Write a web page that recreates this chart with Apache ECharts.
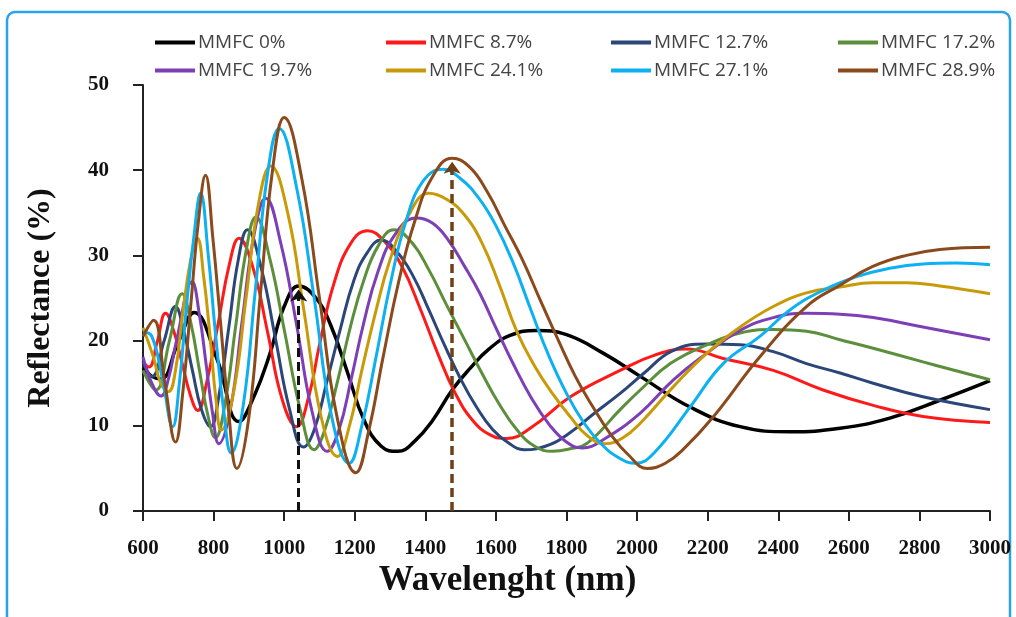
<!DOCTYPE html>
<html>
<head>
<meta charset="utf-8">
<script src="https://cdn.jsdelivr.net/npm/echarts@6/dist/echarts.min.js"></script>
<style>html,body{margin:0;padding:0;background:#fff}#c{width:1016px;height:617px}</style>
</head>
<body>
<div id="c"></div>
<script>
// ---- data (wavelength nm, reflectance %) ----
const names = ['MMFC 0%','MMFC 8.7%','MMFC 12.7%','MMFC 17.2%','MMFC 19.7%','MMFC 24.1%','MMFC 27.1%','MMFC 28.9%'];
const xTicks = [600,800,1000,1200,1400,1600,1800,2000,2200,2400,2600,2800,3000];
const yTicks = [0,10,20,30,40,50];

const mmfc0 = [[600,16.8],[625,15.8],[650,15.5],[700,19.8],[745,23.3],[810,17.8],[872,10.5],[915,13.5],[960,18.5],[1000,24.0],[1042,26.4],[1090,25.0],[1132,21.8],[1180,16.2],[1226,10.7],[1275,7.6],[1322,7.0],[1370,8.2],[1420,10.6],[1476,14.2],[1528,16.8],[1580,19.0],[1640,20.6],[1716,21.2],[1800,20.7],[1905,18.5],[2009,15.8],[2150,12.2],[2292,9.9],[2433,9.3],[2575,9.7],[2716,10.9],[2858,13.0],[3000,15.3]];
const mmfc87 = [[600,17.5],[617,16.9],[640,19.8],[664,23.2],[688,21],[710,17.5],[735,13.5],[755,11.8],[780,15],[813,22],[845,29],[872,32.0],[912,28.5],[953,21],[995,13],[1035,9.9],[1070,13.5],[1100,19.5],[1141,26.7],[1190,31.5],[1236,32.9],[1285,31.6],[1335,28.6],[1385,23.8],[1435,18.5],[1485,13.8],[1535,10.6],[1585,8.9],[1630,8.5],[1700,9.8],[1811,13.4],[1952,16.5],[2050,18.3],[2140,19.0],[2244,17.9],[2386,16.5],[2527,14.2],[2669,12.4],[2810,11.1],[3000,10.4]];
const mmfc127 = [[600,17.5],[626,15.8],[660,20],[692,24.0],[716,21],[740,16.5],[765,12],[791,9.9],[815,13.5],[843,21.5],[870,29.5],[896,33.0],[935,28.5],[975,20.3],[1015,12],[1055,7.5],[1085,9.5],[1120,15],[1160,21.5],[1197,27],[1235,30.3],[1275,31.8],[1320,30.4],[1365,27.6],[1410,23.6],[1455,19.4],[1500,15.5],[1545,12.2],[1590,9.6],[1635,8.0],[1680,7.2],[1740,7.6],[1800,8.9],[1880,11.5],[1952,13.8],[2020,16.2],[2100,18.8],[2197,19.6],[2292,19.5],[2386,18.7],[2480,17.3],[2575,16.2],[2669,15.0],[2810,13.4],[3000,11.9]];
const mmfc172 = [[600,16.5],[636,14.2],[675,20],[711,25.5],[736,22],[760,16.5],[785,11],[805,8.6],[832,12.5],[862,21.5],[892,30.5],[920,34.5],[960,29.5],[1002,20.9],[1045,12],[1085,7.2],[1115,9.5],[1150,15],[1190,22],[1225,27],[1265,31],[1311,33.0],[1360,31.6],[1410,28.3],[1460,24.2],[1510,20.2],[1560,16.2],[1610,12.5],[1660,9.5],[1710,7.6],[1760,7.0],[1810,7.3],[1860,8.0],[1952,11.9],[2009,14.2],[2094,17.3],[2197,19.5],[2292,20.9],[2386,21.3],[2480,21.1],[2575,20.1],[2669,19.1],[2810,17.5],[3000,15.4]];
const mmfc197 = [[600,18.1],[625,15],[651,13.5],[672,15.5],[695,20],[739,26.9],[760,23],[778,17.5],[797,11.5],[815,7.9],[848,12],[881,22.3],[915,32.5],[948,36.7],[990,31.5],[1035,21.9],[1080,11.5],[1122,7.0],[1155,9.5],[1190,15.5],[1225,22],[1265,28],[1315,32.5],[1375,34.4],[1420,33.8],[1465,31.8],[1510,28.8],[1555,25.5],[1600,21.5],[1650,17.2],[1700,13.3],[1750,10.2],[1800,8.1],[1845,7.4],[1905,8.4],[2009,11.5],[2103,15.4],[2197,18.5],[2292,21.2],[2386,22.7],[2480,23.2],[2575,23.1],[2669,22.7],[2810,21.6],[3000,20.1]];
const mmfc241 = [[600,21.5],[630,18],[650,15],[672,14],[692,16.5],[712,23],[735,29.5],[754,32.0],[772,27.5],[790,20.5],[807,13],[822,9.5],[857,14],[892,25],[927,36],[962,40.5],[1010,35],[1056,23.5],[1105,11],[1151,6.4],[1185,10],[1220,16.5],[1260,23.5],[1300,29.5],[1350,34.5],[1410,37.3],[1460,36.6],[1510,34.8],[1560,31.5],[1610,26.5],[1660,21.0],[1710,17.0],[1760,13.8],[1810,11.1],[1860,8.8],[1910,7.9],[1960,8.6],[2009,10.3],[2103,14.6],[2197,18.5],[2292,21.6],[2386,24.0],[2480,25.6],[2575,26.3],[2669,26.8],[2763,26.8],[2858,26.4],[3000,25.5]];
const mmfc271 = [[600,21],[625,20.5],[655,15.5],[684,9.9],[703,15],[722,23.5],[745,32.5],[763,37.3],[785,30],[805,21],[828,12],[850,6.8],[884,12.4],[918,25.8],[952,39.3],[986,44.9],[1035,38],[1085,25],[1135,11],[1184,5.6],[1220,10],[1260,18],[1300,26.5],[1345,34],[1395,38.8],[1450,40.1],[1500,39.0],[1550,36.8],[1600,33.5],[1650,29.0],[1700,23.5],[1750,18.2],[1800,13.8],[1850,10.3],[1900,7.8],[1950,6.2],[1995,5.6],[2050,6.9],[2150,12.2],[2244,17.3],[2348,20.5],[2433,23.6],[2527,25.9],[2622,27.5],[2716,28.5],[2810,29.0],[2905,29.1],[3000,28.9]];
const mmfc289 = [[600,20.5],[630,22.4],[662,15],[692,8.1],[713,14],[735,24],[757,34],[777,39.4],[798,32],[820,22],[843,11.5],[866,5.0],[900,11],[933,25.6],[967,40],[1000,46.2],[1050,39],[1100,25],[1150,11],[1203,4.5],[1240,9.5],[1280,18],[1325,27],[1370,34],[1420,39.2],[1476,41.4],[1525,40.4],[1575,37.5],[1625,33.5],[1675,29.5],[1725,24.8],[1775,20.2],[1825,15.8],[1875,12.2],[1925,9.0],[1975,6.6],[2030,5.0],[2080,5.6],[2130,7.2],[2215,11.0],[2348,18.1],[2480,24.0],[2575,26.5],[2668,28.7],[2763,30.0],[2858,30.7],[3000,30.95]];

// arrows: [wavelength, peak reflectance]
const arrowBlack = [1041, 26.0];
const arrowBrown = [1476, 41.0];

const seriesData = [mmfc0,mmfc87,mmfc127,mmfc172,mmfc197,mmfc241,mmfc271,mmfc289];
const colors = ['#000000','#ff1a1a','#2b4678','#5b8f3c','#7d3fb5','#c99a08','#0db0f0','#8a4a1c'];

const chart = echarts.init(document.getElementById('c'));
const serif = '"Liberation Serif","Times New Roman",serif';

const legendPos = [[150,28],[381,28],[606,28],[833,28],[150,56],[381,56],[606,56],[833,56]];
const legends = names.map((n,i)=>({
  data:[n], left:legendPos[i][0], top:legendPos[i][1], icon:'rect',
  itemWidth:40, itemHeight:4, itemGap:0,
  textStyle:{fontFamily:'"Open Sans"', fontSize:19, color:'#444', padding:[0,0,0,-2]}
}));

const series = seriesData.map((d,i)=>({
  name:names[i], type:'line', data:d, smooth:0.45, symbol:'none',
  lineStyle:{width: i===0?3.5:3, color:colors[i]}, itemStyle:{color:colors[i]},
  z: 2+i
}));
series[0].z = 3;
series.push({
  type:'line', data:[], silent:true,
  markLine:{
    silent:true, symbol:['none','arrow'], symbolSize:[13,12], label:{show:false},
    z:20,
    data:[
      [{coord:[arrowBlack[0],0], lineStyle:{color:'#111', width:3, type:[9,5]}},{coord:[arrowBlack[0],arrowBlack[1]]}],
      [{coord:[arrowBrown[0],0], lineStyle:{color:'#6e4016', width:3.5, type:[9,5]}},{coord:[arrowBrown[0],arrowBrown[1]]}]
    ]
  },
  z:20
});

chart.setOption({
  animation:false,
  backgroundColor:'#fff',
  graphic:[{type:'rect', shape:{x:7,y:12,width:1003,height:640,r:8}, style:{fill:'none', stroke:'#2aa2e8', lineWidth:2.5}, z:-1}],
  legend: legends,
  grid:{left:143, right:26, top:85, bottom:106},
  xAxis:{
    type:'value', min:600, max:3000, interval:200,
    name:'Wavelenght (nm)', nameLocation:'middle', nameGap:49,
    nameTextStyle:{fontFamily:serif, fontWeight:'bold', fontSize:35, color:'#111', padding:[0,118,0,0]},
    axisLine:{lineStyle:{color:'#222', width:2}},
    axisTick:{show:true, inside:false, length:10, lineStyle:{color:'#222', width:2}},
    axisLabel:{fontFamily:serif, fontWeight:'bold', fontSize:21, color:'#111', margin:27,
      formatter:v=> xTicks.includes(v)? String(v):''},
    splitLine:{show:false}
  },
  yAxis:{
    type:'value', min:0, max:50, interval:10,
    name:'Reflectance (%)', nameLocation:'middle', nameGap:86, nameRotate:90,
    nameTextStyle:{fontFamily:serif, fontWeight:'bold', fontSize:32, color:'#111'},
    axisLine:{show:true, lineStyle:{color:'#222', width:2}},
    axisTick:{show:true, inside:false, length:10, lineStyle:{color:'#222', width:2}},
    axisLabel:{fontFamily:serif, fontWeight:'bold', fontSize:21, color:'#111', margin:34,
      formatter:v=> yTicks.includes(v)? String(v):''},
    splitLine:{show:false}
  },
  series: series
});
</script>
</body>
</html>
